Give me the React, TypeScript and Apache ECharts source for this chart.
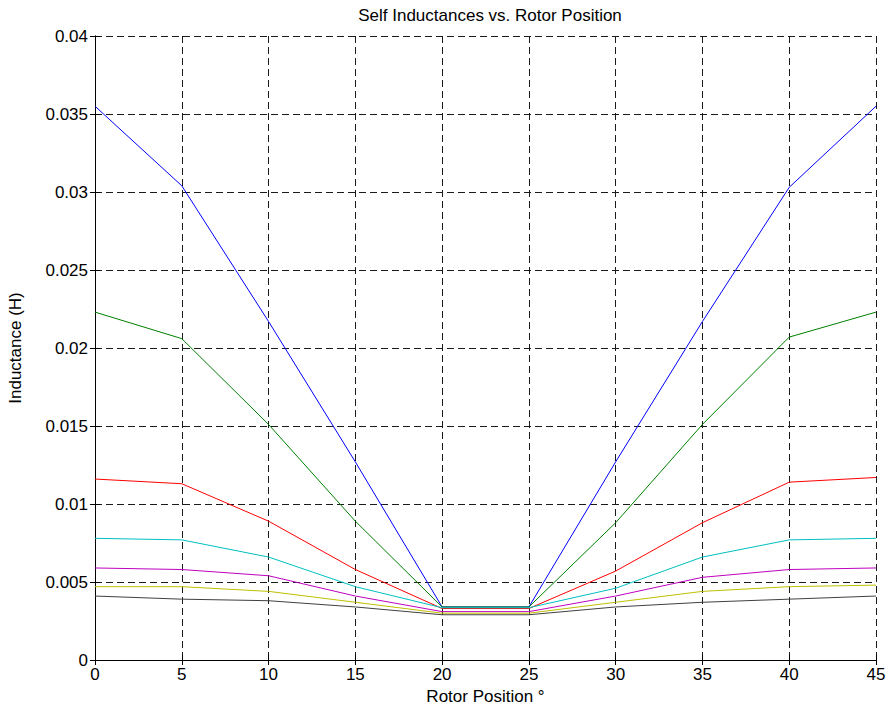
import React, { useEffect, useRef } from "react";
import * as echarts from "echarts";

const positions = [0, 5, 10, 15, 20, 25, 30, 35, 40, 45];
const blue = [0.0355, 0.0304, 0.0217, 0.0127, 0.0034, 0.0034, 0.0127, 0.0217, 0.0303, 0.0355];
const green = [0.0223, 0.0206, 0.0151, 0.0089, 0.0034, 0.0034, 0.0088, 0.0151, 0.0207, 0.0223];
const red = [0.0116, 0.0113, 0.0089, 0.0058, 0.0033, 0.0033, 0.0057, 0.0088, 0.0114, 0.0117];
const cyan = [0.0078, 0.0077, 0.0066, 0.0047, 0.00335, 0.00335, 0.0046, 0.0066, 0.0077, 0.0078];
const magenta = [0.0059, 0.0058, 0.0054, 0.0041, 0.0031, 0.0031, 0.0041, 0.0053, 0.0058, 0.0059];
const yellow = [0.0047, 0.0047, 0.0044, 0.0037, 0.003, 0.003, 0.0037, 0.0044, 0.0047, 0.0048];
const black = [0.0041, 0.0039, 0.0038, 0.0034, 0.0029, 0.0029, 0.0034, 0.0037, 0.0039, 0.0041];

const seriesList = [
  { name: "L1", data: blue, color: "#0000ff" },
  { name: "L2", data: green, color: "#008000" },
  { name: "L3", data: red, color: "#ff0000" },
  { name: "L4", data: cyan, color: "#00bfbf" },
  { name: "L5", data: magenta, color: "#bf00bf" },
  { name: "L6", data: yellow, color: "#bfbf00" },
  { name: "L7", data: black, color: "#404040" },
];

const FONT = "Liberation Sans, Arial, sans-serif";

export default function App() {
  const ref = useRef<HTMLDivElement>(null);
  useEffect(() => {
    document.body.style.margin = "0";
    if (!ref.current) return;
    const chart = echarts.init(ref.current, undefined, { renderer: "svg" });
    const dash = { color: "#1a1a1a", width: 1, type: [7, 4] as number[] };
    chart.setOption({
      animation: false,
      backgroundColor: "#fff",
      title: {
        text: "Self Inductances vs. Rotor Position",
        left: 485,
        textAlign: "center",
        top: 2,
        textStyle: { fontFamily: FONT, fontSize: 17, fontWeight: "normal", color: "#000" },
      },
      grid: { left: 95, right: 14, top: 36, bottom: 53, containLabel: false, outerBoundsMode: "none" },
      xAxis: [
        {
          type: "value",
          min: 0,
          max: 45,
          interval: 5,
          name: "Rotor Position \u00b0",
          nameLocation: "middle",
          nameGap: 25,
          nameTextStyle: { fontFamily: FONT, fontSize: 17, color: "#000" },
          axisLine: { show: true, lineStyle: { color: "#000", width: 1 } },
          axisTick: { show: true, inside: true, length: 5, lineStyle: { color: "#000" } },
          axisLabel: { fontFamily: FONT, fontSize: 17, color: "#000", margin: 6 },
          splitLine: { show: true, lineStyle: dash },
        },
        {
          type: "value",
          position: "top",
          min: 0,
          max: 45,
          interval: 5,
          axisLine: { show: true, lineStyle: { color: "#000", width: 1 } },
          axisTick: { show: true, inside: true, length: 5, lineStyle: { color: "#000" } },
          axisLabel: { show: false },
          splitLine: { show: false },
        },
      ],
      yAxis: [
        {
          type: "value",
          min: 0,
          max: 0.04,
          interval: 0.005,
          name: "Inductance (H)",
          nameLocation: "middle",
          nameGap: 71,
          nameRotate: 90,
          nameTextStyle: { fontFamily: FONT, fontSize: 17, color: "#000" },
          axisLine: { show: true, lineStyle: { color: "#000", width: 1 } },
          axisTick: { show: true, inside: true, length: 5, lineStyle: { color: "#000" } },
          axisLabel: {
            fontFamily: FONT,
            fontSize: 17,
            color: "#000",
            margin: 7,
            formatter: (v: number) => String(parseFloat(v.toFixed(4))),
          },
          splitLine: { show: true, lineStyle: dash },
        },
        {
          type: "value",
          position: "right",
          min: 0,
          max: 0.04,
          interval: 0.005,
          axisLine: { show: true, lineStyle: { color: "#000", width: 1 } },
          axisTick: { show: true, inside: true, length: 5, lineStyle: { color: "#000" } },
          axisLabel: { show: false },
          splitLine: { show: false },
        },
      ],
      series: seriesList.map((s) => ({
        name: s.name,
        type: "line",
        xAxisIndex: 0,
        yAxisIndex: 0,
        showSymbol: false,
        symbol: "none",
        data: positions.map((p, i) => [p, s.data[i]]),
        lineStyle: { color: s.color, width: 1 },
        itemStyle: { color: s.color },
      })),
    });
    return () => chart.dispose();
  }, []);
  return <div ref={ref} style={{ width: 890, height: 713 }} />;
}
